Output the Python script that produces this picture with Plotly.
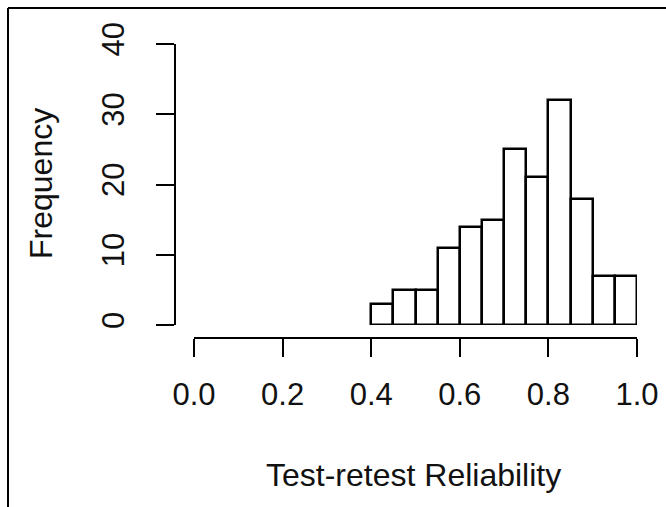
import plotly.graph_objects as go

# Histogram data (R-style hist, bin width 0.05)
bin_edges = [0.40, 0.45, 0.50, 0.55, 0.60, 0.65, 0.70, 0.75, 0.80, 0.85, 0.90, 0.95, 1.00]
counts = [3, 5, 5, 11, 14, 15, 25, 21, 32, 18, 7, 7]
x_ticks = [0.0, 0.2, 0.4, 0.6, 0.8, 1.0]
x_tick_labels = ["0.0", "0.2", "0.4", "0.6", "0.8", "1.0"]
y_ticks = [0, 10, 20, 30, 40]
y_tick_labels = ["0", "10", "20", "30", "40"]
x_title = "Test-retest Reliability"
y_title = "Frequency"

centers = [(a + b) / 2 for a, b in zip(bin_edges[:-1], bin_edges[1:])]
widths = [b - a for a, b in zip(bin_edges[:-1], bin_edges[1:])]

W, H = 666, 507
L, R, T, B = 150, 29, 44, 169
pw = W - L - R
ph = H - T - B

def px_to_paper_x(px):
    return (px - L) / pw

def py_to_paper_y(py):
    return (H - B - py) / ph

FONT = "Liberation Sans, Arial, sans-serif"
TICK_SIZE = 31
TITLE_SIZE = 32

fig = go.Figure()
fig.add_trace(go.Bar(
    x=centers, y=counts, width=widths,
    marker=dict(color="white", line=dict(color="black", width=2.5)),
    cliponaxis=False, showlegend=False, hoverinfo="x+y",
))

fig.update_layout(
    width=W, height=H, autosize=False,
    margin=dict(l=L, r=R, t=T, b=B, pad=0),
    paper_bgcolor="white", plot_bgcolor="white",
    font=dict(family=FONT, color="black", size=TICK_SIZE),
    bargap=0,
    xaxis=dict(
        domain=[px_to_paper_x(194), 1.0],
        range=[0, 1], anchor="free", position=0, automargin=False,
        tickvals=x_ticks, ticktext=x_tick_labels,
        ticks="outside", ticklen=18, tickwidth=2, tickcolor="black",
        showline=True, linecolor="black", linewidth=2,
        showgrid=False, zeroline=False,
        tickfont=dict(size=TICK_SIZE, family=FONT, color="#111"),
        ticklabelstandoff=11,
    ),
    yaxis=dict(
        domain=[py_to_paper_y(325), 1.0],
        range=[0, 40], anchor="free", position=px_to_paper_x(175), automargin=False,
        tickvals=y_ticks, ticktext=y_tick_labels, tickangle=-90,
        ticks="outside", ticklen=18, tickwidth=2, tickcolor="black",
        showline=True, linecolor="black", linewidth=2,
        showgrid=False, zeroline=False,
        tickfont=dict(size=TICK_SIZE, family=FONT, color="#111"),
        ticklabelstandoff=20,
    ),
)

fig.add_annotation(
    text=x_title, xref="paper", yref="paper",
    x=px_to_paper_x(413), y=py_to_paper_y(475),
    xanchor="center", yanchor="middle", showarrow=False,
    font=dict(size=TITLE_SIZE, family=FONT, color="#111"),
)
fig.add_annotation(
    text=y_title, xref="paper", yref="paper",
    x=px_to_paper_x(41), y=py_to_paper_y(184),
    xanchor="center", yanchor="middle", showarrow=False, textangle=-90,
    font=dict(size=TITLE_SIZE, family=FONT, color="#111"),
)

# Outer frame (cropped box: top and left edges visible)
fig.add_shape(type="line", xref="paper", yref="paper",
              x0=px_to_paper_x(8), x1=px_to_paper_x(W + 5),
              y0=py_to_paper_y(8), y1=py_to_paper_y(8),
              line=dict(color="black", width=2))
fig.add_shape(type="line", xref="paper", yref="paper",
              x0=px_to_paper_x(8), x1=px_to_paper_x(8),
              y0=py_to_paper_y(8), y1=py_to_paper_y(H + 5),
              line=dict(color="black", width=2))

fig.write_html(
    "out.html",
    config={"displayModeBar": False, "responsive": False},
    post_script="document.body.style.margin='0';document.body.style.padding='0';"
                "document.documentElement.style.overflow='hidden';",
)
